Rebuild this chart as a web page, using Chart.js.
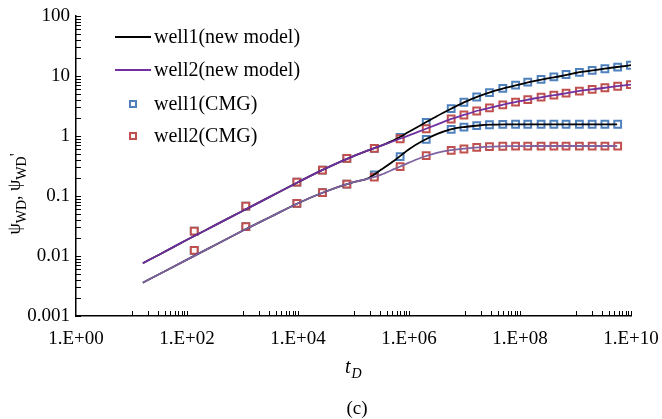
<!DOCTYPE html>
<html>
<head>
<meta charset="utf-8">
<script src="https://cdn.jsdelivr.net/npm/chart.js@4.4.1/dist/chart.umd.min.js"></script>
<style>
  html, body { margin: 0; padding: 0; background: #fff; }
  #wrap { width: 662px; height: 419px; }
</style>
</head>
<body>
<div id="wrap"><canvas id="pressureChart" width="662" height="419"></canvas></div>
<script>
// model curve times (t_D)
const modelTimes = [16, 32, 100, 316, 1000, 3160, 1e4, 3.16e4, 1e5, 1.78e5, 3.16e5, 5.62e5, 1e6, 1.78e6,
  3.16e6, 5.62e6, 1e7, 1.78e7, 3.16e7, 5.62e7, 1e8, 1.78e8, 3.16e8, 5.62e8, 1e9, 1.78e9, 3.16e9, 5.62e9, 1e10];

// new model: pressure (psi_WD) and derivative (psi_WD')
const well1Pressure = [0.00759, 0.01059, 0.01862, 0.03236, 0.05623, 0.09772, 0.1698, 0.2884, 0.4624, 0.5689,
  0.6918, 0.871, 1.175, 1.585, 2.138, 2.818, 3.673, 4.571, 5.495, 6.383, 7.278, 8.222, 9.12, 10.0, 11.22,
  12.16, 13.12, 14.13, 15.14];
const well2Pressure = [0.00759, 0.01059, 0.01862, 0.03236, 0.05623, 0.09772, 0.1698, 0.2884, 0.4624, 0.5689,
  0.6918, 0.8414, 1.023, 1.259, 1.549, 1.905, 2.265, 2.661, 3.02, 3.428, 3.802, 4.217, 4.624, 5.012, 5.495,
  5.916, 6.31, 6.761, 7.194];
const well1Derivative = [0.003589, 0.005012, 0.00871, 0.01514, 0.0263, 0.04467, 0.07586, 0.1189, 0.1698, 0.195,
  0.2754, 0.3981, 0.6026, 0.8318, 1.072, 1.288, 1.413, 1.496, 1.542, 1.56, 1.567, 1.567, 1.567, 1.567, 1.567,
  1.567, 1.567, 1.567, null];
const well2Derivative = [0.003589, 0.005012, 0.00871, 0.01514, 0.0263, 0.04467, 0.07586, 0.1189, 0.1698, 0.1928,
  0.2265, 0.2851, 0.3589, 0.4467, 0.5248, 0.5821, 0.6166, 0.6457, 0.6653, 0.6761, 0.6792, 0.6808, 0.6808,
  0.6808, 0.6808, 0.6808, 0.6808, 0.6808, null];

// CMG simulation points
const cmgTimes = [135, 1148, 9550, 27540, 75860, 2.371e5, 6.918e5, 2.042e6, 5.754e6, 9.77e6, 1.66e7, 2.818e7,
  4.898e7, 8.318e7, 1.38e8, 2.399e8, 4.074e8, 6.761e8, 1.175e9, 1.995e9, 3.388e9, 5.754e9, 9.772e9];
const cmgWell1Pressure = [0.026, 0.068, 0.171, 0.271, 0.425, 0.62, 0.95, 1.69, 2.85, 3.65, 4.47, 5.3, 6.2,
  7.05, 7.9, 8.8, 9.65, 10.6, 11.5, 12.4, 13.2, 14.1, 15.1];
const cmgWell2Pressure = [0.026, 0.068, 0.171, 0.271, 0.425, 0.62, 0.9, 1.32, 1.92, 2.24, 2.61, 2.95, 3.31,
  3.67, 4.05, 4.43, 4.8, 5.18, 5.58, 5.98, 6.37, 6.75, 7.16];
const cmgWell1Derivative = [0.0124, 0.0308, 0.0756, 0.1135, 0.158, 0.224, 0.452, 0.88, 1.29, 1.41, 1.49, 1.54,
  1.56, 1.57, 1.57, 1.57, 1.57, 1.57, 1.57, 1.57, 1.57, 1.57];
const cmgWell2Derivative = [0.0124, 0.0308, 0.0756, 0.1135, 0.158, 0.207, 0.308, 0.47, 0.578, 0.607, 0.645,
  0.665, 0.675, 0.68, 0.68, 0.68, 0.68, 0.68, 0.68, 0.68, 0.68, 0.68];

// axis ticks
const xTickValues = [1, 1e2, 1e4, 1e6, 1e8, 1e10];
const xTickLabels = ['1.E+00', '1.E+02', '1.E+04', '1.E+06', '1.E+08', '1.E+10'];
const yTickValues = [0.001, 0.01, 0.1, 1, 10, 100];
const yTickLabels = ['0.001', '0.01', '0.1', '1', '10', '100'];

const legendItems = ['well1(new model)', 'well2(new model)', 'well1(CMG)', 'well2(CMG)'];

const SERIF = '"Liberation Serif", "Times New Roman", serif';
const BLACK = '#000000', PURPLE = '#7030A0', LIGHT_PURPLE = '#8064A2';
const BLUE = '#4F81BD', RED = '#C0504D';

const pts = (xs, ys) => ys.map((v, i) => ({ x: xs[i], y: v }));

function lineSet(label, ys, color, order) {
  return {
    label, data: pts(modelTimes, ys), showLine: true, borderColor: color, borderWidth: 1.8,
    pointRadius: 0, cubicInterpolationMode: 'monotone', spanGaps: false, order
  };
}
function markSet(label, xs, ys, color, order) {
  return {
    label, data: pts(xs, ys), showLine: false, pointStyle: 'rect', pointRadius: 4.8,
    pointBorderWidth: 2, pointBorderColor: color, pointBackgroundColor: '#ffffff', order
  };
}

// tick marks, legend and axis titles
const decorations = {
  id: 'decorations',
  afterDraw(chart) {
    const { ctx, chartArea: a, scales: { x, y } } = chart;
    ctx.save();
    ctx.strokeStyle = '#000';
    ctx.lineWidth = 1;
    ctx.beginPath();
    // x ticks (inside), minors every other decade
    for (let e = 1; e <= 9; e += 2) {
      for (let k = 1; k <= 10; k++) {
        const px = Math.round(x.getPixelForValue(k * Math.pow(10, e))) + 0.5;
        ctx.moveTo(px, a.bottom); ctx.lineTo(px, a.bottom - 5);
      }
    }
    // y ticks (inside)
    for (let e = -3; e <= 1; e++) {
      for (let k = 1; k <= 10; k++) {
        const py = Math.round(y.getPixelForValue(k * Math.pow(10, e))) + 0.5;
        ctx.moveTo(a.left, py); ctx.lineTo(a.left + 5, py);
      }
    }
    ctx.stroke();

    // legend
    ctx.textBaseline = 'middle';
    ctx.textAlign = 'left';
    const rows = [37, 70, 104, 136];
    ctx.lineWidth = 1.8;
    [[BLACK, 0], [PURPLE, 1]].forEach(([c, i]) => {
      ctx.strokeStyle = c;
      ctx.beginPath(); ctx.moveTo(115, rows[i]); ctx.lineTo(151, rows[i]); ctx.stroke();
    });
    ctx.lineWidth = 2;
    [[BLUE, 2], [RED, 3]].forEach(([c, i]) => {
      ctx.strokeStyle = c; ctx.fillStyle = '#fff';
      ctx.beginPath(); ctx.rect(130, rows[i] - 3, 6, 6); ctx.fill(); ctx.stroke();
    });
    ctx.fillStyle = '#000';
    ctx.font = '20px ' + SERIF;
    legendItems.forEach((t, i) => ctx.fillText(t, 154, rows[i] + 1));

    // x title t_D and (c)
    ctx.textBaseline = 'alphabetic';
    ctx.font = 'italic 20px ' + SERIF;
    ctx.fillText('t', 345, 373);
    const tw = ctx.measureText('t').width;
    ctx.font = 'italic 14px ' + SERIF;
    ctx.fillText('D', 345 + tw + 1, 378);
    ctx.font = '19px ' + SERIF;
    ctx.textAlign = 'center';
    ctx.fillText('(c)', 357, 414);

    // y title, rotated (reads bottom to top)
    ctx.translate(20, 194);
    ctx.rotate(-Math.PI / 2);
    const parts = [
      ['ψ', '18px', 0], ['WD', '14px', 6], [', ', '18px', 0], ['ψ', '18px', 0], ['WD', '14px', 6], ["'", '16px', 1]
    ];
    let total = 0;
    parts.forEach(p => { ctx.font = p[1] + ' ' + SERIF; total += ctx.measureText(p[0]).width; });
    let cx = -total / 2;
    ctx.textAlign = 'left';
    parts.forEach(p => {
      ctx.font = p[1] + ' ' + SERIF;
      ctx.fillText(p[0], cx, p[2]);
      cx += ctx.measureText(p[0]).width;
    });
    ctx.restore();
  }
};

const ctx = document.getElementById('pressureChart').getContext('2d');
const pressureChart = new Chart(ctx, {
  type: 'scatter',
  data: {
    datasets: [
      lineSet('well2 pressure', well2Pressure, PURPLE, 0),
      lineSet('well2 derivative', well2Derivative, LIGHT_PURPLE, 1),
      lineSet('well1 pressure', well1Pressure, BLACK, 2),
      lineSet('well1 derivative', well1Derivative, BLACK, 3),
      markSet('well2(CMG) pressure', cmgTimes, cmgWell2Pressure, RED, 4),
      markSet('well2(CMG) derivative', cmgTimes, cmgWell2Derivative, RED, 5),
      markSet('well1(CMG) pressure', cmgTimes, cmgWell1Pressure, BLUE, 6),
      markSet('well1(CMG) derivative', cmgTimes, cmgWell1Derivative, BLUE, 7)
    ]
  },
  options: {
    responsive: false,
    animation: false,
    layout: { padding: { left: 0, top: 16, right: 31, bottom: 0 } },
    plugins: { legend: { display: false }, tooltip: { enabled: false } },
    scales: {
      x: {
        type: 'logarithmic', min: 1, max: 1e10,
        afterBuildTicks: s => { s.ticks = xTickValues.map(v => ({ value: v })); },
        afterFit: s => { s.height = 103; s.paddingLeft = 0; s.paddingRight = 0; },
        grid: { display: false, drawTicks: false },
        border: { display: true, color: '#000', width: 1.5 },
        ticks: {
          padding: 12, color: '#000', font: { family: SERIF, size: 19 },
          maxRotation: 0, autoSkip: false,
          callback: (v, i) => xTickLabels[i]
        }
      },
      y: {
        type: 'logarithmic', min: 0.001, max: 100,
        afterBuildTicks: s => { s.ticks = yTickValues.map(v => ({ value: v })); },
        afterFit: s => { s.width = 76; s.paddingTop = 0; s.paddingBottom = 0; },
        grid: { display: false, drawTicks: false },
        border: { display: true, color: '#000', width: 1.5 },
        ticks: {
          padding: 6, color: '#000', font: { family: SERIF, size: 19 },
          autoSkip: false,
          callback: (v, i) => yTickLabels[i]
        }
      }
    }
  },
  plugins: [decorations]
});
</script>
</body>
</html>
